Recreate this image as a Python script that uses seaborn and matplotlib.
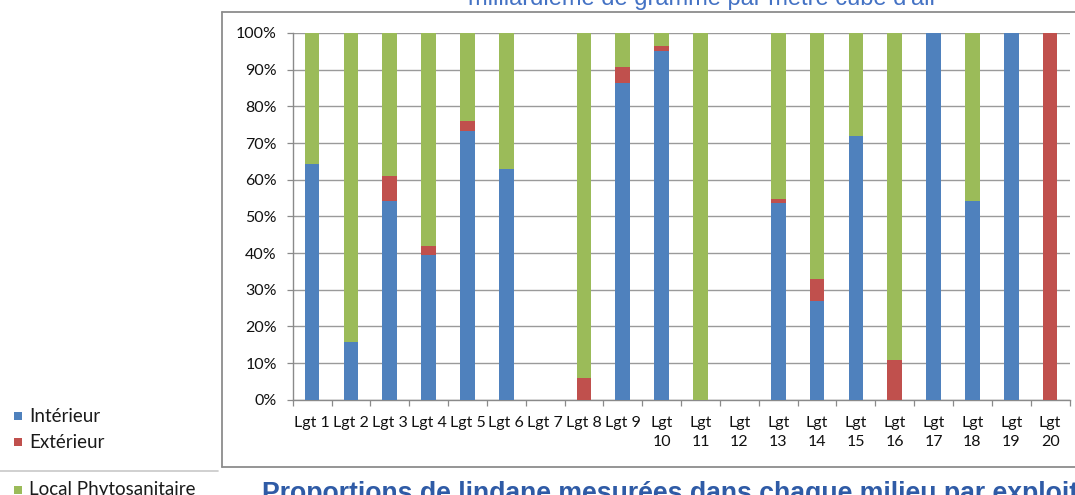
import matplotlib
matplotlib.use("Agg")
import matplotlib.pyplot as plt
from matplotlib.lines import Line2D
from matplotlib.patches import Rectangle
from matplotlib.ticker import FixedLocator, PercentFormatter
import numpy as np
import pandas as pd
import seaborn as sns

# Share of lindane per sampling location for each farm (percent)
categories = [f"Lgt {i}" for i in range(1, 21)]
tick_labels = [f"Lgt {i}" if i < 10 else f"Lgt\n{i}" for i in range(1, 21)]
interieur = [64.2, 15.8, 54.3, 39.5, 73.4, 62.8, 0, 0, 86.5, 95.1,
             0, 0, 53.6, 26.8, 72.0, 0, 100, 54.3, 100, 0]
exterieur = [0, 0, 6.8, 2.3, 2.5, 0, 0, 5.9, 4.1, 1.3,
             0, 0, 1.0, 6.1, 0, 10.8, 0, 0, 0, 100]
local_phyto = [35.8, 84.2, 38.9, 58.2, 24.1, 37.2, 0, 94.1, 9.4, 3.6,
               100, 0, 45.4, 67.1, 28.0, 89.2, 0, 45.7, 0, 0]
series_names = ["Intérieur", "Extérieur", "Local Phytosanitaire"]
colors = ["#4F81BD", "#C0504D", "#9BBB59"]

df = pd.DataFrame({
    "categorie": categories,
    "Intérieur": interieur,
    "Extérieur": exterieur,
    "Local Phytosanitaire": local_phyto,
})

sns.set_theme(style="white")
plt.rcParams["font.family"] = ["Lato", "DejaVu Sans"]

W, H = 1075, 495
fig = plt.figure(figsize=(W / 100, H / 100), dpi=100)
fig.patch.set_facecolor("white")


def fx(px):
    return px / W


def fy(py):
    return 1 - py / H


ax = fig.add_axes([fx(292.7), fy(399.7), fx(1069.5) - fx(292.7), fy(33) - fy(399.7)])

# Stacked bars: each series sits on the cumulative sum of the previous ones
bottom = np.zeros(len(categories))
for name, col in zip(series_names, colors):
    sns.barplot(data=df, x="categorie", y=name, color=col, width=0.38,
                bottom=bottom.copy(), ax=ax, linewidth=0, saturation=1,
                zorder=3)
    bottom += df[name].to_numpy()

ax.set_xlim(-0.5, len(categories) - 0.5)
ax.set_ylim(0, 100)
ax.set_xlabel("")
ax.set_ylabel("")

# Y axis: percent ticks with horizontal gridlines
ax.set_yticks(np.arange(0, 101, 10))
ax.yaxis.set_major_formatter(PercentFormatter(decimals=0))
ax.grid(axis="y", color="#9a9a9a", linewidth=1.0, zorder=0)
ax.grid(axis="x", visible=False)
ax.tick_params(axis="y", which="major", left=True, length=4.5, width=0.9,
               color="#8a8a8a", pad=7, labelsize=11.5, labelcolor="#111111")

# X axis: labels at bar centres, tick marks on category boundaries
ax.set_xticks(range(len(categories)))
ax.set_xticklabels(tick_labels, linespacing=1.4)
ax.xaxis.set_minor_locator(FixedLocator(np.arange(-0.5, len(categories), 1.0)))
ax.tick_params(axis="x", which="major", bottom=True, length=0, pad=12,
               labelsize=11.5, labelcolor="#111111")
ax.tick_params(axis="x", which="minor", bottom=True, length=4.5, width=0.9,
               color="#8a8a8a")
for lbl in ax.get_xticklabels():
    lbl.set_verticalalignment("top")

for side in ["top", "right"]:
    ax.spines[side].set_visible(False)
for side in ["left", "bottom"]:
    ax.spines[side].set_color("#8a8a8a")
    ax.spines[side].set_linewidth(1.0)

# Chart frame
frame_kw = dict(color="#8c8c8c", linewidth=1.3, transform=fig.transFigure)
fig.add_artist(Line2D([fx(222), fx(222)], [fy(12), fy(467)], **frame_kw))
fig.add_artist(Line2D([fx(222), 1.0], [fy(12), fy(12)], **frame_kw))
fig.add_artist(Line2D([fx(222), 1.0], [fy(467), fy(467)], **frame_kw))
fig.add_artist(Line2D([0, fx(218)], [fy(471), fy(471)], color="#c8c8c8",
                      linewidth=1.2, transform=fig.transFigure))

# Legend entries
legend_y = [416, 442, 490]
for name, col, py in zip(series_names, colors, legend_y):
    fig.add_artist(Rectangle((fx(14), fy(py + 4)), fx(8), 8 / H,
                             facecolor=col, edgecolor="none",
                             transform=fig.transFigure))
    fig.text(fx(29), fy(py), name, fontsize=13.5, color="#1a1a1a",
             va="center", ha="left")

# Titles
fig.text(fx(703), fy(5.5), "milliardième de gramme par mètre cube d'air",
         fontsize=17, color="#4472C4", ha="center", va="baseline",
         family=["Liberation Sans", "DejaVu Sans"])
fig.text(fx(262), fy(501),
         "Proportions de lindane mesurées dans chaque milieu par exploitation",
         fontsize=19.2, fontweight="bold", color="#2F5BA6", ha="left",
         va="baseline", family=["Liberation Sans", "DejaVu Sans"])

fig.savefig("out.png", dpi=100)
